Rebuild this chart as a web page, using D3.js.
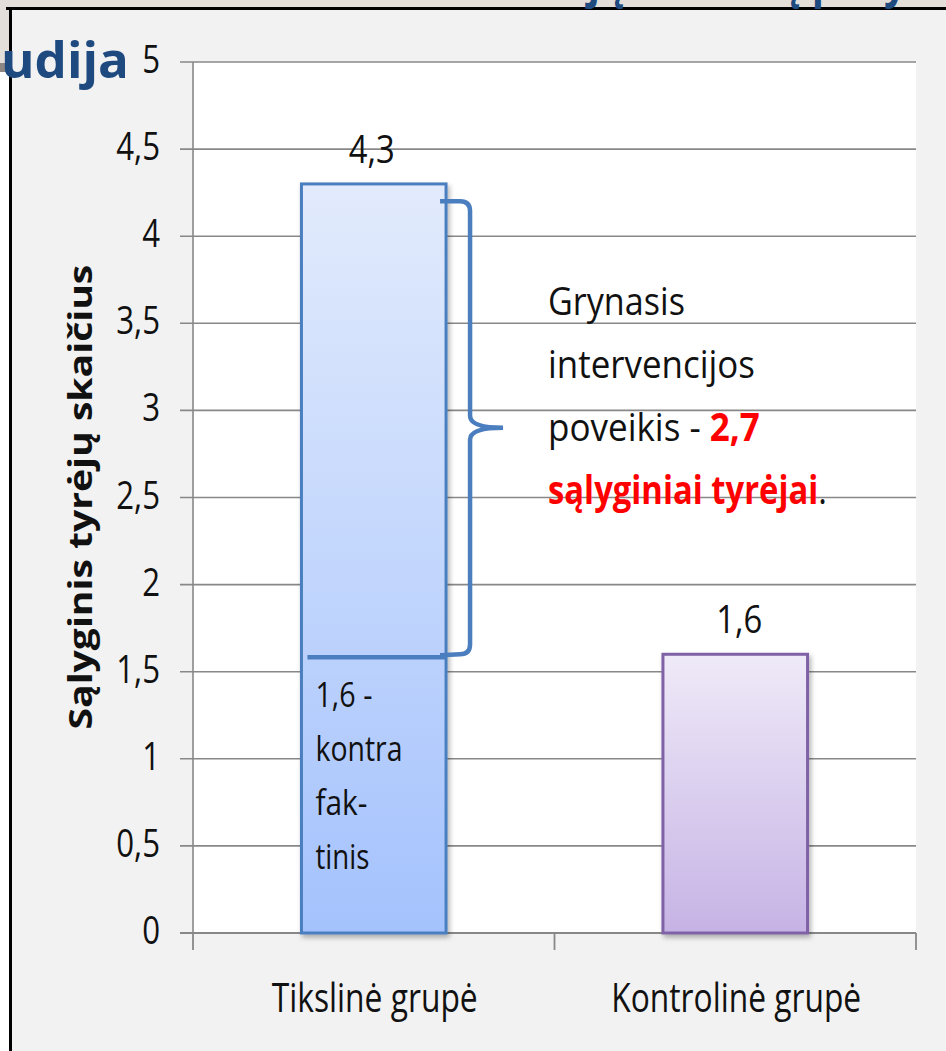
<!DOCTYPE html>
<html><head><meta charset="utf-8">
<script src="https://cdn.jsdelivr.net/npm/d3@7"></script>
<style>html,body{margin:0;padding:0;background:#f2f2f2;} svg{display:block}</style>
</head><body><svg id="c" width="946" height="1051"></svg>
<script>
// ---- data ----
const categories = ["Tikslinė grupė", "Kontrolinė grupė"];
const values = [4.3, 1.6];
const valueLabels = ["4,3", "1,6"];
const yTicks = [0, 0.5, 1, 1.5, 2, 2.5, 3, 3.5, 4, 4.5, 5];
const yTickLabels = ["0", "0,5", "1", "1,5", "2", "2,5", "3", "3,5", "4", "4,5", "5"];
const yTitle = "Sąlyginis tyrėjų skaičius";
const counterfactual = 1.6;
const braceRange = [1.6, 4.2];
const counterfactualLines = ["1,6 -", "kontra", "fak-", "tinis"];
const noteLines = [["Grynasis"], ["intervencijos"], ["poveikis - ", "2,7"], ["sąlyginiai tyrėjai", "."]];
const headingTop = "Kontrafaktinio vertinimo atvejų analizė į pavyzdinė studija";
const headingBottom = "udija";

// ---- layout ----
const W = 946, H = 1051;
const svg = d3.select("#c");
const FONT = "'Open Sans', 'DejaVu Sans', sans-serif";
const y = d3.scaleLinear().domain([0, 5]).range([933, 62]);
const x = d3.scaleBand().domain(categories).range([193, 916]).paddingInner(0.6).paddingOuter(0.3);

const defs = svg.append("defs");
function grad(id, c1, c2) {
  const g = defs.append("linearGradient").attr("id", id).attr("x1", 0).attr("y1", 0).attr("x2", 0).attr("y2", 1);
  g.append("stop").attr("offset", "0%").attr("stop-color", c1);
  g.append("stop").attr("offset", "100%").attr("stop-color", c2);
}
grad("g0", "#e2ebfc", "#a4c2fd");
grad("g1", "#efeaf8", "#c6b3e5");
const f = defs.append("filter").attr("id", "sh").attr("x", "-10%").attr("y", "-10%").attr("width", "130%").attr("height", "130%");
f.append("feDropShadow").attr("dx", 2).attr("dy", 3).attr("stdDeviation", 2.5).attr("flood-color", "#000").attr("flood-opacity", 0.3);

// background frame
svg.append("rect").attr("x", 0).attr("y", 0).attr("width", W).attr("height", H).attr("fill", "#f2f2f2");
svg.append("rect").attr("x", 0).attr("y", 0).attr("width", W).attr("height", 8).attr("fill", "#e3ded9");
svg.append("rect").attr("x", 0).attr("y", 0).attr("width", 9).attr("height", 72).attr("fill", "#e3ded9");
svg.append("rect").attr("x", 0).attr("y", 63).attr("width", 9).attr("height", 9).attr("fill", "#8e8682");
svg.append("rect").attr("x", 0).attr("y", 72).attr("width", 9).attr("height", H - 72).attr("fill", "#ffffff");
svg.append("rect").attr("x", 6).attr("y", 7).attr("width", W - 6).attr("height", 3).attr("fill", "#000");
svg.append("rect").attr("x", 9).attr("y", 7).attr("width", 3).attr("height", H - 7).attr("fill", "#000");

// text helper: fits text horizontally to a target width or a scale factor
function label(parent, str, px, py, o) {
  const t = parent.append("text").attr("x", 0).attr("y", 0)
    .style("font-family", o.family || FONT).style("font-size", o.size + "px")
    .style("font-weight", o.weight || 400).attr("fill", o.fill || "#111");
  const parts = Array.isArray(str) ? str : [str];
  parts.forEach((p, i) => {
    const ts = t.append("tspan").text(p);
    if (o.partStyle) o.partStyle(ts, i);
  });
  const nat = t.node().getComputedTextLength();
  const sx = o.width ? o.width / nat : (o.sx || 1);
  const w = nat * sx;
  const a = o.anchor || "start";
  const off = a === "end" ? -w : a === "middle" ? -w / 2 : 0;
  const rot = o.rotate ? ` rotate(${o.rotate})` : "";
  t.attr("transform", `translate(${px},${py})${rot} translate(${off},0) scale(${sx},1)`);
  return t;
}

// heading fragments (the slide title is cut off at the top edge in the original)
label(svg, headingTop, -12, -3, {size: 50, weight: 700, fill: "#1f4a80", sx: 0.8});
label(svg, headingBottom, 1, 78, {size: 50, weight: 700, fill: "#1f4a80", width: 128});

// plot area
svg.append("rect").attr("x", 193).attr("y", y(5)).attr("width", 916 - 193).attr("height", y(0) - y(5)).attr("fill", "#fff");

// gridlines + y ticks
svg.append("g").selectAll("line").data(yTicks).join("line")
  .attr("x1", 180).attr("x2", 916).attr("y1", d => y(d)).attr("y2", d => y(d))
  .attr("stroke", "#888").attr("stroke-width", 1.6);
svg.append("line").attr("x1", 193).attr("x2", 193).attr("y1", y(5)).attr("y2", y(0)).attr("stroke", "#888").attr("stroke-width", 1.6);
yTicks.forEach((d, i) => label(svg, yTickLabels[i], 160, y(d) + 11, {size: 39, sx: 0.8, anchor: "end", fill: "#111"}));

// x axis + ticks at band boundaries
svg.append("line").attr("x1", 180).attr("x2", 916).attr("y1", y(0)).attr("y2", y(0)).attr("stroke", "#888").attr("stroke-width", 1.8);
const bounds = d3.range(categories.length + 1).map(i => x.range()[0] + i * x.step());
svg.append("g").selectAll("line").data(bounds).join("line")
  .attr("x1", d => d).attr("x2", d => d).attr("y1", y(0)).attr("y2", y(0) + 17)
  .attr("stroke", "#888").attr("stroke-width", 1.8);

// bars
const strokes = ["#4a7ebf", "#7f62a6"];
svg.append("g").selectAll("rect").data(values).join("rect")
  .attr("x", (d, i) => x(categories[i])).attr("width", x.bandwidth())
  .attr("y", d => y(d)).attr("height", d => y(0) - y(d))
  .attr("fill", (d, i) => `url(#g${i})`).attr("stroke", (d, i) => strokes[i]).attr("stroke-width", 3)
  .attr("filter", "url(#sh)");

// value labels
values.forEach((d, i) => label(svg, valueLabels[i], x(categories[i]) + x.bandwidth() / 2 + (i ? 4 : -2), y(d) - 21,
  {size: 39, width: 46, anchor: "middle"}));

// x labels
const xlw = [206, 250];
categories.forEach((c, i) => label(svg, c, x(c) + x.bandwidth() / 2 + 1, 1012, {size: 40, width: xlw[i], anchor: "middle"}));

// y axis title
label(svg, yTitle, 92, 497, {size: 32, weight: 700, width: 465, anchor: "middle", rotate: -90});

// counterfactual line and brace
const b0 = x(categories[0]), b1 = b0 + x.bandwidth();
const blue = "#4a7ebf";
svg.append("line").attr("x1", b0 + 6).attr("x2", b1).attr("y1", y(counterfactual) + 3).attr("y2", y(counterfactual) + 3)
  .attr("stroke", blue).attr("stroke-width", 4.5);
const yt = y(braceRange[1]), yb = y(braceRange[0]), ym = (yt + yb) / 2;
const vx = b1 + 24, tip = b1 + 57;
const p = d3.path();
p.moveTo(b1 - 6, yt);
p.lineTo(vx - 10, yt);
p.quadraticCurveTo(vx, yt, vx, yt + 10);
p.lineTo(vx, ym - 12);
p.quadraticCurveTo(vx, ym, tip, ym);
p.quadraticCurveTo(vx, ym, vx, ym + 12);
p.lineTo(vx, yb - 10);
p.quadraticCurveTo(vx, yb, vx - 10, yb);
p.lineTo(b1 - 6, yb + 1);
svg.append("path").attr("d", p.toString()).attr("fill", "none").attr("stroke", blue).attr("stroke-width", 4.5);

// counterfactual text inside bar
const cfw = [57, 87, 52, 54];
counterfactualLines.forEach((s, i) => label(svg, s, b0 + 14, y(counterfactual) + 53 + i * 54, {size: 35, width: cfw[i]}));

// note text
const nw = [137, 207, 212, 279];
noteLines.forEach((parts, i) => label(svg, parts, 548, 315 + i * 63, {
  size: 39, width: nw[i],
  partStyle: (ts, j) => {
    const red = (i === 2 && j === 1) || (i === 3 && j === 0);
    if (red) ts.attr("fill", "#ff0000").style("font-weight", 700);
  }
}));
</script></body></html>
